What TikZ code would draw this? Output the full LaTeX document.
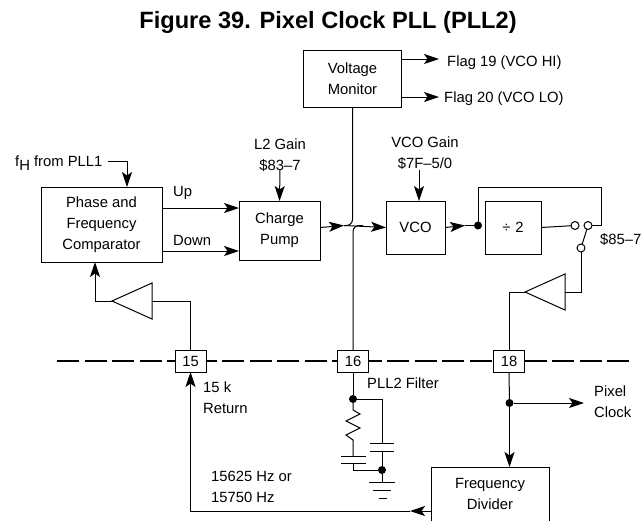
\documentclass[tikz,border=0pt]{standalone}
\usepackage{fontspec}
\setmainfont{Liberation Sans}
\usetikzlibrary{arrows.meta, positioning, shapes.geometric}

\begin{document}
\begin{tikzpicture}[
    x=1pt, y=-1pt,
    every node/.style={font=\fontsize{14.8}{21}\selectfont},
    block/.style={draw, line width=1pt, fill=white, align=center, inner sep=0pt, outer sep=0pt},
    pin/.style={draw, line width=1pt, fill=white, minimum width=31pt, minimum height=22pt, inner sep=0pt, outer sep=0pt},
    lab/.style={anchor=west, align=left, inner sep=0pt},
    wire/.style={line width=1pt},
    arrow/.style={line width=1pt, -{Stealth[length=15pt, width=10pt, inset=3.5pt]}},
    bus/.style={line width=1.8pt, dash pattern=on 22pt off 5.5pt},
    buffer/.style={draw, line width=1pt, isosceles triangle, shape border rotate=180, isosceles triangle stretches, anchor=apex, inner sep=0pt, outer sep=0pt, minimum width=36pt, minimum height=40pt},
    contact/.style={circle, draw, line width=1pt, fill=white, minimum size=8pt, inner sep=0pt, outer sep=0pt},
    dot/.style={circle, fill=black, minimum size=8pt, inner sep=0pt, outer sep=0pt}
]
    \useasboundingbox (0,0) rectangle (644,520);
    \clip (0,0) rectangle (644,520);

    \node[font=\fontsize{23.6}{28}\selectfont\bfseries, anchor=base] (title) at (328,28) {Figure 39. Pixel Clock PLL (PLL2)};

    \coordinate (busl) at (57,361);
    \coordinate (busr) at (630,361);
    \draw[bus] (busl) -- (busr);

    \node[block, minimum width=121pt, minimum height=75pt] (comparator) at (101.5,224.5) {Phase and\\Frequency\\Comparator};
    \node[block, minimum width=81pt, minimum height=59pt, right=77pt of comparator, yshift=-6pt] (pump) {Charge\\Pump};
    \node[block, minimum width=59pt, minimum height=53pt, right=66pt of pump, yshift=3pt] (vco) {VCO};
    \node[block, minimum width=56pt, minimum height=53pt, right=40pt of vco] (divider) {÷\,\,2};
    \node[block, minimum width=98pt, minimum height=57pt] (monitor) at (352.5,78.5) {Voltage\\Monitor};
    \node[pin] (pin15) at (190.5,361) {15};
    \node[pin, right=131.5pt of pin15] (pin16) {16};
    \node[pin, right=125pt of pin16] (pin18) {18};
    \node[block, minimum width=118pt, minimum height=54pt] (freqdiv) at (490,494) {Frequency\\Divider};

    \node[buffer] (bufin) at (112,301) {};
    \node[buffer] (bufout) at (525,292) {};

    \node[contact] (swa) at (575,225.5) {};
    \node[contact] (swb) at (588,225.5) {};
    \node[contact] (swc) at (581,248) {};
    \node[dot] (fbdot) at (478,225.5) {};
    \node[dot] (filterdot) at (353,399) {};
    \node[dot] (gnddot) at (382,470) {};
    \node[dot] (clkdot) at (509.5,403) {};

    \node[lab] (fh) at (15,163) {f\raisebox{-4pt}{H} from PLL1};
    \node[lab] (uplab) at (173,193) {Up};
    \node[lab] (downlab) at (173,240) {Down};
    \node[align=center, inner sep=0pt] (l2gain) at (280,155) {L2 Gain\\\$83–7};
    \node[align=center, inner sep=0pt] (vcogain) at (425,153) {VCO Gain\\\$7F–5/0};
    \node[lab] (flaghi) at (447,63) {Flag 19 (VCO HI)};
    \node[lab] (flaglo) at (444,99) {Flag 20 (VCO LO)};
    \node[lab] (swlab) at (600,240) {\$85–7};
    \node[lab] (filterlab) at (367,383) {PLL2 Filter};
    \node[lab] (retlab) at (203,397.5) {15 k\\Return};
    \node[lab] (hzlab) at (211,487) {15625 Hz or\\15750 Hz};
    \node[lab] (clklab) at (594,402) {Pixel\\Clock};

    \coordinate (pumpup) at ([yshift=22.5pt]pump.west);
    \coordinate (pumpdown) at ([yshift=-20.5pt]pump.west);
    \coordinate (tapa) at (344,225.5);
    \coordinate (tapb) at (363,225.5);
    \coordinate (tapc) at (465,225.5);
    \coordinate (looptop) at (601,187);
    \coordinate (retmid) at (410,511);
    \coordinate (flaghitip) at (439,59);
    \coordinate (flaglotip) at (439,97);
    \coordinate (clktip) at (584,403);

    \draw[arrow] ([xshift=5pt, yshift=5pt]fh.base east) -| ([xshift=25.5pt]comparator.north);
    \draw[arrow] (comparator.east |- pumpup) -- (pumpup);
    \draw[arrow] (comparator.east |- pumpdown) -- (pumpdown);
    \draw[arrow] ([yshift=2pt]l2gain.south) -- (pump.north);
    \draw[arrow] (vcogain.south -| vco.north) ++(3.5,0) -- ([xshift=3.5pt]vco.north);
    \draw[arrow] (vco.west -| pump.east) -- (tapa);
    \draw[arrow] (tapa) -- (vco.west);
    \draw[wire, rounded corners=6pt] (monitor.south) |- (tapa);
    \draw[wire, rounded corners=6pt] (pin16.north) |- (tapb);
    \draw[arrow] (vco.east) -- (tapc);
    \draw[wire] (tapc) -- (fbdot);
    \draw[wire] (fbdot) |- (looptop) |- (swb);
    \draw[wire] (divider.east) -- (swa);
    \draw[wire] (swc) -- (swb);
    \draw[wire] (swc) |- (bufout.lower side);
    \draw[wire] (bufout.apex) -| (pin18.north);
    \draw[wire] (pin15.north) |- (bufin.lower side);
    \draw[arrow] (bufin.apex) -| ([xshift=-6.5pt]comparator.south);
    \draw[arrow] (monitor.east |- flaghitip) -- (flaghitip);
    \draw[arrow] (monitor.east |- flaglotip) -- (flaglotip);
    \draw[wire] (pin16.south) -- (filterdot);
    \draw[wire] (pin18.south) -- (clkdot);
    \draw[arrow] (clkdot) -- (clktip);
    \draw[arrow] (clkdot) -- (clkdot |- freqdiv.north);
    \draw[arrow] (freqdiv.west |- retmid) -- (retmid);
    \draw[arrow] (retmid) -| (pin15.south);

    \draw[wire] (filterdot) -- (353,410) -- ++(7,4) -- ++(-14,7) -- ++(14,7) -- ++(-14,7) -- ++(7,5) -- (353,456);
    \draw[wire] (341,456) -- (366,456);
    \draw[wire] (341,463.5) -- (366,463.5);
    \draw[wire] (353,463.5) |- (gnddot);
    \draw[wire] (filterdot) -| (382,443);
    \draw[wire] (370,443) -- (394,443);
    \draw[wire] (370,451) -- (394,451);
    \draw[wire] (382,451) -- (gnddot);
    \draw[wire] (gnddot) -- (382,482);
    \draw[wire] (369,482) -- (395,482);
    \draw[wire] (373,490) -- (391,490);
    \draw[wire] (379,498) -- (387,498);
\end{tikzpicture}
\end{document}
